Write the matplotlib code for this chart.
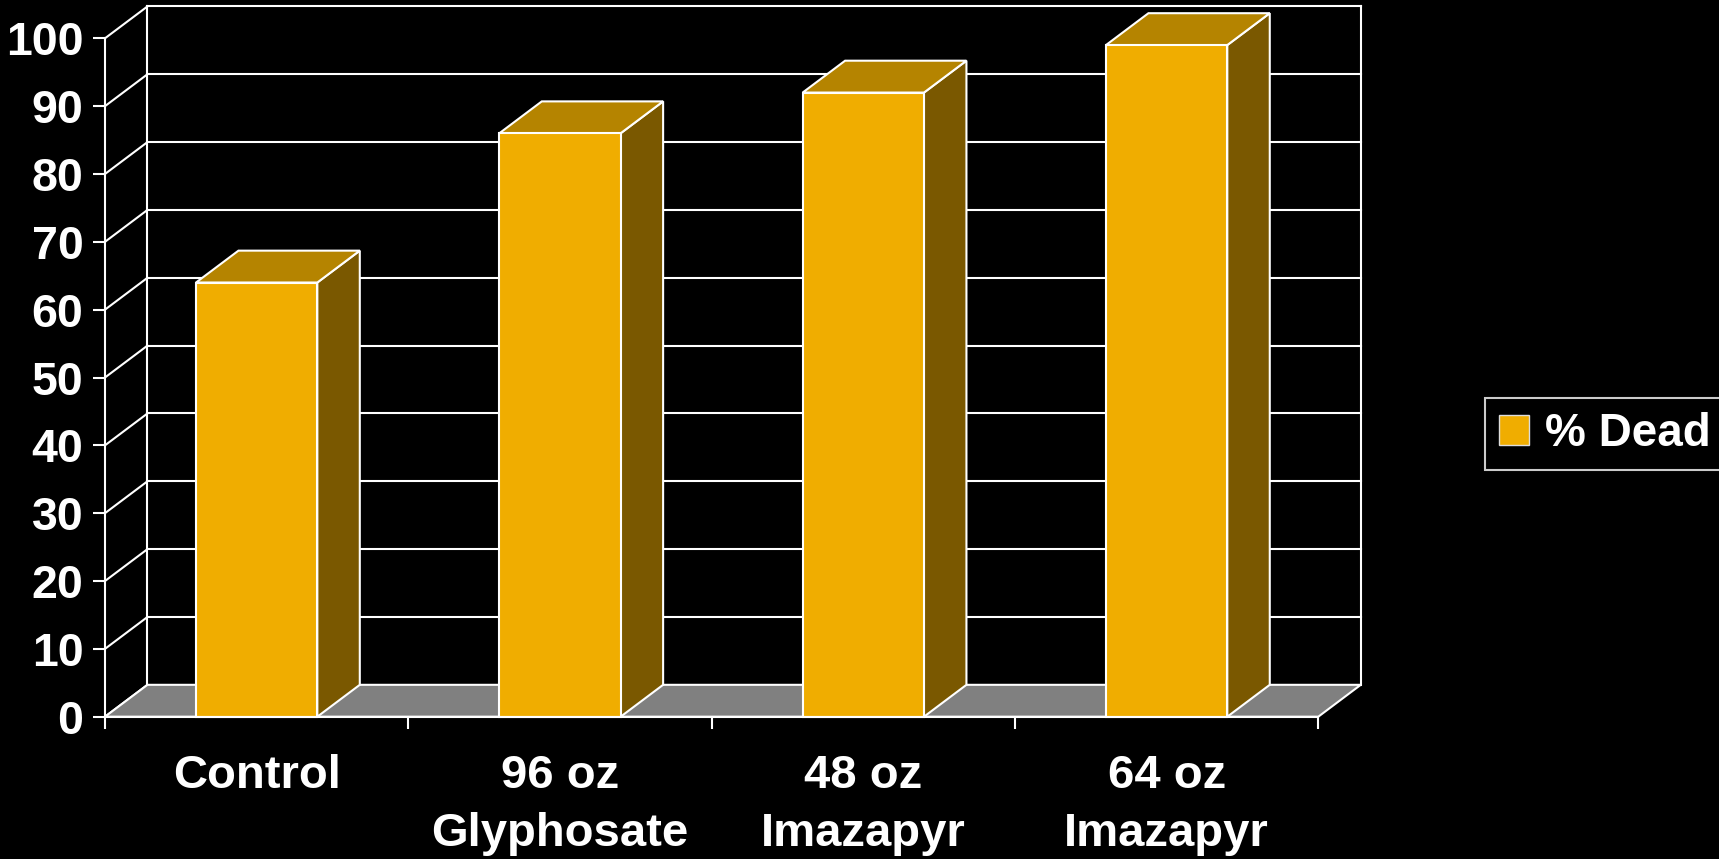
import matplotlib
matplotlib.use('Agg')
import matplotlib.pyplot as plt
from matplotlib.patches import Polygon, Patch

plt.rcParams['font.family'] = ['Liberation Sans', 'DejaVu Sans']
plt.rcParams['font.weight'] = 'bold'

# data
categories = ['Control', '96 oz\nGlyphosate', '48 oz\nImazapyr', '64 oz\nImazapyr']
pct_dead = [64, 86, 92, 99]
y_ticks = [0, 10, 20, 30, 40, 50, 60, 70, 80, 90, 100]
series_name = '% Dead'

# colours / 3d look
front_col = '#F0AD00'
top_col = '#B58400'
side_col = '#7A5800'
floor_col = '#808080'
line_col = 'white'
lw = 1.5

# depth offset, in data units (x: categories, y: percent)
dx = 0.14
dy = 4.7
bar_w = 0.4

fig = plt.figure(figsize=(17.19, 8.59), dpi=100, facecolor='black')
ax = fig.add_axes([105 / 1719, 1 - 716.7 / 859, 1213.3 / 1719, 678.4 / 859])
ax.set_facecolor('none')
n = len(categories)
ax.set_xlim(0, n)
ax.set_ylim(0, 100)

# back wall gridlines + diagonal connectors
for v in y_ticks:
    if v > 0:
        ax.plot([dx, n + dx], [v + dy, v + dy], color=line_col, lw=lw, zorder=1, clip_on=False)
    ax.plot([0, dx], [v, v + dy], color=line_col, lw=lw, zorder=1, clip_on=False)
ax.plot([dx, dx], [dy, 100 + dy], color=line_col, lw=lw, zorder=1, clip_on=False)
ax.plot([n + dx, n + dx], [dy, 100 + dy], color=line_col, lw=lw, zorder=1, clip_on=False)

# floor
floor = Polygon([(0, 0), (n, 0), (n + dx, dy), (dx, dy)], closed=True,
                facecolor=floor_col, edgecolor=line_col, lw=lw, zorder=2, clip_on=False)
ax.add_patch(floor)

# bars
for i, v in enumerate(pct_dead):
    c = i + 0.5
    x0, x1 = c - bar_w / 2, c + bar_w / 2
    side = Polygon([(x1, 0), (x1 + dx, dy), (x1 + dx, v + dy), (x1, v)], closed=True,
                   facecolor=side_col, edgecolor=line_col, lw=lw, zorder=3, clip_on=False)
    top = Polygon([(x0, v), (x1, v), (x1 + dx, v + dy), (x0 + dx, v + dy)], closed=True,
                  facecolor=top_col, edgecolor=line_col, lw=lw, zorder=3, clip_on=False)
    front = Polygon([(x0, 0), (x1, 0), (x1, v), (x0, v)], closed=True,
                    facecolor=front_col, edgecolor=line_col, lw=lw, zorder=4, clip_on=False)
    ax.add_patch(side)
    ax.add_patch(top)
    ax.add_patch(front)

# axes
for s in ['top', 'right']:
    ax.spines[s].set_visible(False)
for s in ['left', 'bottom']:
    ax.spines[s].set_color(line_col)
    ax.spines[s].set_linewidth(lw)
    ax.spines[s].set_zorder(5)

ax.set_yticks(y_ticks)
ax.set_yticklabels([str(t) for t in y_ticks])
ax.tick_params(axis='y', colors=line_col, labelcolor='white', labelsize=33.5,
               length=8.6, width=lw, pad=7)
ax.set_xticks(range(n + 1))
ax.set_xticklabels([])
ax.set_xticks([i + 0.5 for i in range(n)], minor=True)
ax.set_xticklabels(categories, minor=True, linespacing=1.42)
ax.tick_params(axis='x', which='major', colors=line_col, length=8.6, width=lw)
ax.tick_params(axis='x', which='minor', length=0, labelcolor='white', labelsize=34, pad=27)

# legend
handle = Patch(facecolor=front_col, edgecolor='#dddddd', lw=1)
leg = fig.legend([handle], [series_name], loc='center left',
                 bbox_to_anchor=(1485 / 1719, 1 - 434 / 859),
                 fontsize=33, frameon=True, fancybox=False,
                 facecolor='black', edgecolor='white',
                 handlelength=0.65, handleheight=0.65, handletextpad=0.35,
                 borderpad=0.3, borderaxespad=0)
leg.get_frame().set_linewidth(lw)
for t in leg.get_texts():
    t.set_color('white')

fig.savefig('out.png', dpi=100, facecolor='black')
